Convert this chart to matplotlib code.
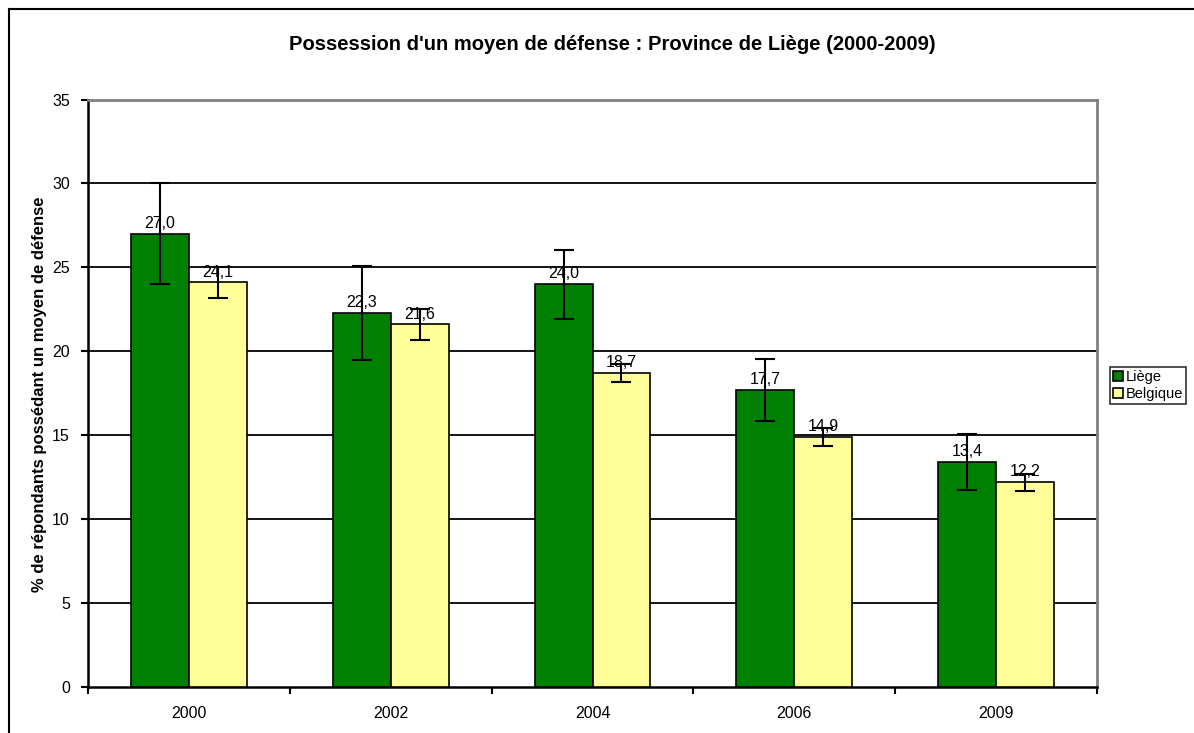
import matplotlib
matplotlib.use("Agg")
import matplotlib.pyplot as plt
import numpy as np

plt.rcParams['font.family'] = ['Liberation Sans', 'DejaVu Sans']

years = ["2000", "2002", "2004", "2006", "2009"]
liege = [27.0, 22.3, 24.0, 17.7, 13.4]
belgique = [24.1, 21.6, 18.7, 14.9, 12.2]
liege_err = [3.0, 2.8, 2.05, 1.85, 1.65]
belgique_err = [0.93, 0.9, 0.55, 0.55, 0.5]
yticks = [0, 5, 10, 15, 20, 25, 30, 35]

title = "Possession d'un moyen de défense : Province de Liège (2000-2009)"
ylabel = "% de répondants possédant un moyen de défense"

fig = plt.figure(figsize=(11.94, 7.33), dpi=100)
ax = fig.add_axes([88/1194, 46/733, (1097-88)/1194, (687-99.5)/733])

x = np.arange(len(years))
w = 0.287
green = "#008000"
yellow = "#FFFF99"

ax.bar(x - w/2, liege, w, color=green, edgecolor="black", linewidth=1.2, zorder=3, label="Liège")
ax.bar(x + w/2, belgique, w, color=yellow, edgecolor="black", linewidth=1.2, zorder=3, label="Belgique")
ax.errorbar(x - w/2, liege, yerr=liege_err, fmt="none", ecolor="black", elinewidth=1.5, capsize=7, capthick=1.5, zorder=4)
ax.errorbar(x + w/2, belgique, yerr=belgique_err, fmt="none", ecolor="black", elinewidth=1.5, capsize=7, capthick=1.5, zorder=4)

for xi, v in zip(x - w/2, liege):
    ax.annotate(f"{v:.1f}".replace(".", ","), (xi, v), xytext=(0, 2), textcoords="offset points",
                ha="center", va="bottom", fontsize=11.5, zorder=5)
for xi, v in zip(x + w/2, belgique):
    ax.annotate(f"{v:.1f}".replace(".", ","), (xi, v), xytext=(0, 2), textcoords="offset points",
                ha="center", va="bottom", fontsize=11.5, zorder=5)

ax.set_xlim(-0.5, len(years) - 0.5)
ax.set_ylim(0, 35)
ax.set_yticks(yticks)
ax.set_yticklabels([str(t) for t in yticks], fontsize=11.5)
ax.set_xticks(x)
ax.set_xticklabels(years, fontsize=11.5)
ax.tick_params(axis="x", length=0, pad=14)
ax.set_xticks(np.arange(-0.5, len(years), 1), minor=True)
ax.tick_params(axis="x", which="minor", length=5, width=1.5, direction="out")
ax.tick_params(axis="y", length=5, width=1.5, direction="out", pad=8)

for t in yticks[1:-1]:
    ax.axhline(t, color="black", linewidth=1.3, zorder=1)

ax.spines["left"].set_linewidth(1.8)
ax.spines["bottom"].set_linewidth(1.8)
ax.spines["top"].set_color("#808080")
ax.spines["right"].set_color("#808080")
ax.spines["top"].set_linewidth(2)
ax.spines["right"].set_linewidth(2)

fig.text(40/1194, 1 - 394/733, ylabel, rotation=90, ha="center", va="center",
         fontsize=12, fontweight="bold")
fig.text(612/1194, 1 - 45/733, title, ha="center", va="center", fontsize=14.5, fontweight="bold")

leg = fig.legend(loc="upper left", bbox_to_anchor=(1110/1194, 1 - 367/733), fontsize=10.5,
                 frameon=True, fancybox=False, edgecolor="black", borderpad=0.2,
                 handlelength=0.7, handleheight=0.7, handletextpad=0.2, labelspacing=0.2,
                 borderaxespad=0)
leg.get_frame().set_linewidth(1.2)

# outer chart border
fig.add_artist(plt.Line2D([9/1194, 9/1194], [0, 1 - 9/733], color="black", linewidth=1.5, transform=fig.transFigure))
fig.add_artist(plt.Line2D([9/1194, 1], [1 - 9/733, 1 - 9/733], color="black", linewidth=1.5, transform=fig.transFigure))

fig.savefig("out.png", dpi=100)
